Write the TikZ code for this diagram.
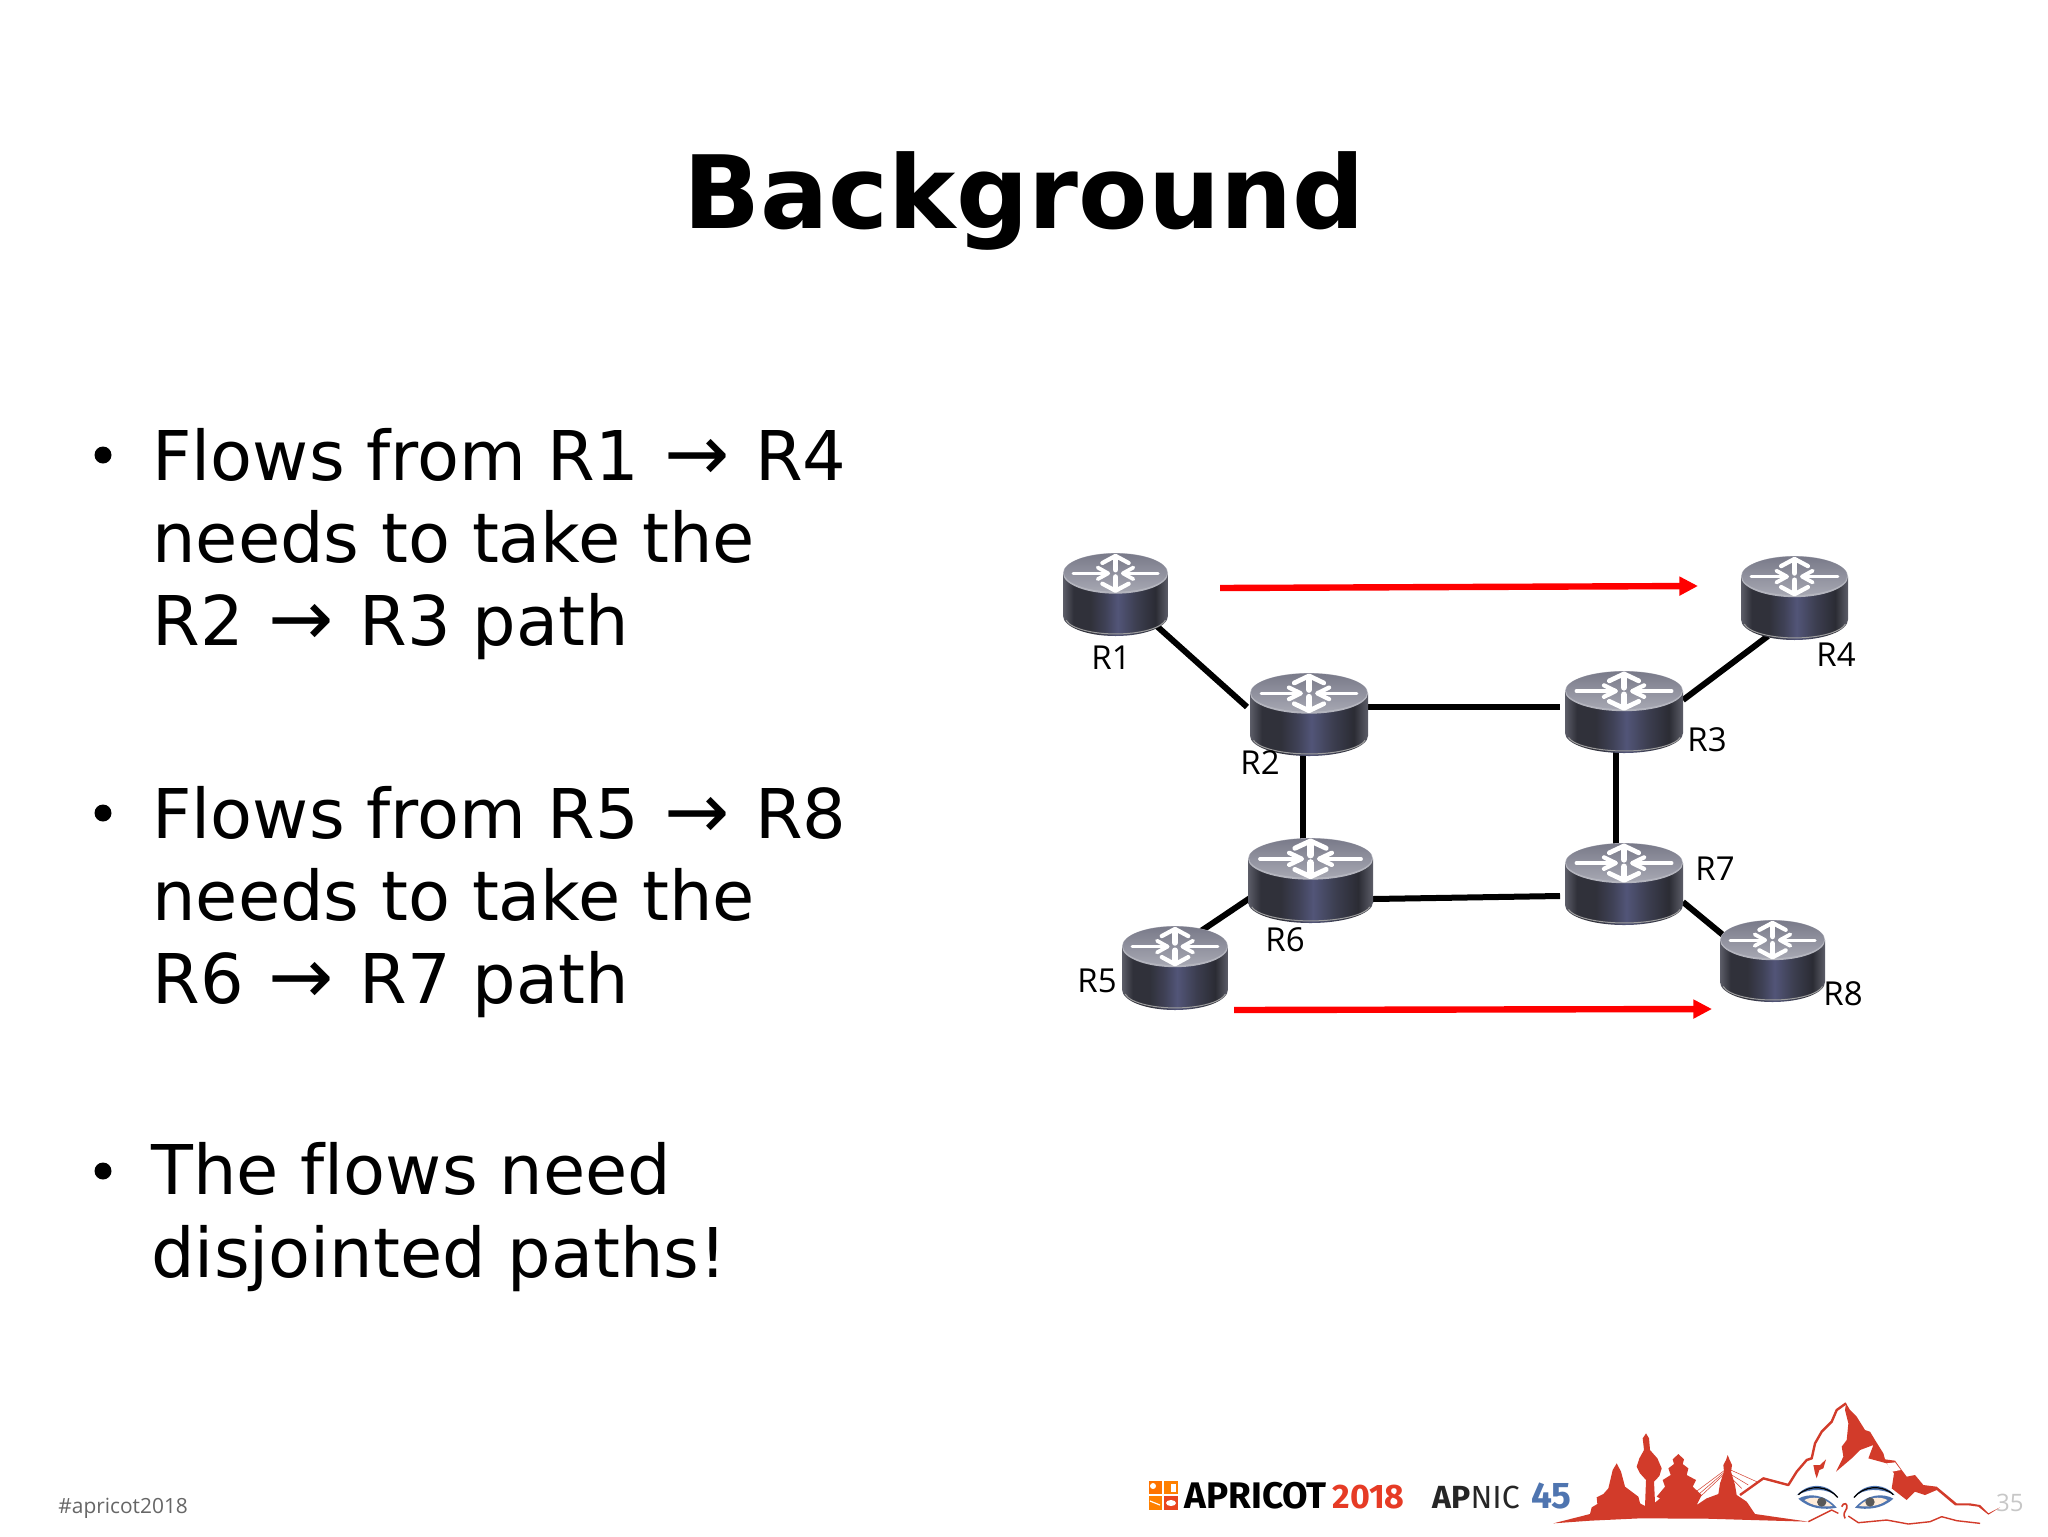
\documentclass[tikz,border=0pt]{standalone}
\usepackage{fontspec}
\setmainfont[Ligatures=NoCommon]{DejaVu Sans}
\newfontfamily\labelfont{Open Sans}
\newfontfamily\logofont{Fira Sans}
\usetikzlibrary{arrows.meta,calc}
\definecolor{redlogo}{HTML}{D23B2A}
\definecolor{redtxt}{HTML}{E63B25}
\definecolor{bluetxt}{HTML}{4F75B0}
\definecolor{rimtop}{HTML}{B4B5BE}
\definecolor{toplo}{HTML}{A6A7B2}
\definecolor{tophi}{HTML}{797A89}
\definecolor{bedge}{HTML}{5C5D68}
\definecolor{bdark}{HTML}{30313A}
\definecolor{bmid}{HTML}{3F4156}
\definecolor{bglow}{HTML}{525578}
\definecolor{bmid2}{HTML}{3C3E50}
\definecolor{bdark2}{HTML}{2B2C34}
\pgfdeclarehorizontalshading{routerbody}{100bp}{
 color(0bp)=(bedge);
 color(25bp)=(bedge);
 color(30bp)=(bdark);
 color(38bp)=(bdark);
 color(45bp)=(bmid);
 color(51bp)=(bglow);
 color(60bp)=(bmid2);
 color(69bp)=(bdark2);
 color(75bp)=(bedge);
 color(100bp)=(bedge)}
\tikzset{
 routerbox/.style={inner sep=0pt,outer sep=0pt},
 link/.style={black,line width=3pt},
 flow/.style={red,line width=3.2pt,-{Triangle[length=9.3pt,width=9pt]}},
 rlabel/.style={inner sep=0pt,font=\labelfont\fontsize{16.5}{18}\selectfont,text=black},
 bodytext/.style={inner sep=0pt,anchor=west,align=left,font=\fontsize{34.3}{41.2}\selectfont},
 bulletdot/.style={circle,fill=black,inner sep=0pt,minimum size=8.5pt},
 logothin/.style={draw=redlogo,line width=0.7pt,line join=round},
}
\newcommand{\bigarrow}{{\kern1.5pt\fontsize{39}{41.2}\selectfont →\kern2pt}}
\newcommand{\routerart}[3]{%
 \begin{scope}[shift={(#1.center)},x=#2*0.5pt,y=-#3*0.5pt]
  \shade[shading=routerbody] (-1,-.51) -- (-1,.51) arc[start angle=180,end angle=0,x radius=1,y radius=.49] -- (1,-.51) -- cycle;
  \draw[white!62!black,line width=0.5pt] (-.94,.62) arc[start angle=170,end angle=10,x radius=.96,y radius=.40];
  \fill[rimtop] (0,-.51) ellipse[x radius=1,y radius=.49];
  \shade[top color=tophi,bottom color=toplo] (0,-.53) ellipse[x radius=.985,y radius=.46];
  \begin{scope}[white,line width=#2*0.028pt,line cap=round,line join=round]
   \draw (-.81,-.51) -- (-.14,-.51);
   \draw[line width=#2*0.036pt] (-.34,-.65) -- (-.14,-.51) -- (-.34,-.37);
   \draw (.81,-.51) -- (.14,-.51);
   \draw[line width=#2*0.036pt] (.34,-.65) -- (.14,-.51) -- (.34,-.37);
   \draw[line width=#2*0.055pt] (0,-.6) -- (0,-.88);
   \draw[line width=#2*0.04pt] (-.25,-.76) -- (0,-.93) -- (.25,-.76);
   \draw[line width=#2*0.055pt] (0,-.42) -- (0,-.14);
   \draw[line width=#2*0.04pt] (-.25,-.26) -- (0,-.09) -- (.25,-.26);
  \end{scope}
 \end{scope}}
\begin{document}
\begin{tikzpicture}[x=0.5pt,y=-0.5pt]
\useasboundingbox (0,0) rectangle (2048,1536);
\fill[white] (0,0) rectangle (2048,1536);
% title
\node[inner sep=0pt,font=\bfseries\fontsize{50.6}{60}\selectfont] (title) at (1024,201) {Background};
% body
\node[bulletdot] (b1) at (103,455) {};
\node[bodytext] (t1) at (152,544) {Flows from R1 \bigarrow{} R4\\needs to take the\\R2 \bigarrow{} R3 path};
\node[bulletdot] (b2) at (103,813) {};
\node[bodytext] (t2) at (152,902) {Flows from R5 \bigarrow{} R8\\needs to take the\\R6 \bigarrow{} R7 path};
\node[bulletdot] (b3) at (103,1171) {};
\node[bodytext] (t3) at (151,1217) {The flows need\\disjointed paths!};
% router frames
\node[routerbox,minimum width=52.5pt,minimum height=41.5pt] (r1) at (1115.5,594.5) {};
\node[routerbox,minimum width=59pt,minimum height=41.5pt] (r2) at (1309,714.5) {};
\node[routerbox,minimum width=59pt,minimum height=41pt] (r3) at (1624,712) {};
\node[routerbox,minimum width=53.5pt,minimum height=42pt] (r4) at (1794.5,598) {};
\node[routerbox,minimum width=53pt,minimum height=42pt] (r5) at (1175,968) {};
\node[routerbox,minimum width=62.5pt,minimum height=42.5pt] (r6) at (1310.5,880.5) {};
\node[routerbox,minimum width=59pt,minimum height=41pt] (r7) at (1624,884) {};
\node[routerbox,minimum width=52.5pt,minimum height=41pt] (r8) at (1772.5,961) {};
% connector ends
\coordinate (c12a) at (1150,620);
\coordinate (c12) at (1247,707);
\coordinate (c23) at (1560,707);
\coordinate (c26) at (1303,800);
\coordinate (c37) at (1616,800);
\coordinate (c67) at (1560,896);
\coordinate (c61) at (1373,899);
\coordinate (c34a) at (1683,700);
\coordinate (c34b) at (1768,636);
\coordinate (c78a) at (1683,902);
\coordinate (c78b) at (1723,935);
\coordinate (c56a) at (1201,931);
\coordinate (c56b) at (1250,898);
\coordinate (f1a) at (1220,588);
\coordinate (f1b) at (1698,586);
\coordinate (f2a) at (1234,1010);
\coordinate (f2b) at (1712,1009);
% links
\draw[link] (c12a) -- (c12);
\draw[link] (c23 -| r2.center) -- (c23);
\draw[link] (c26 |- r2.center) -- (c26 |- r6.center);
\draw[link] (c37 |- r3.center) -- (c37 |- r7.center);
\draw[link] (c61) -- (c67);
\draw[link] (c34a) -- (c34b);
\draw[link] (c78a) -- (c78b);
\draw[link] (c56a) -- (c56b);
% routers
\routerart{r1}{52.5}{41.5}
\routerart{r2}{59}{41.5}
\routerart{r3}{59}{41}
\routerart{r4}{53.5}{42}
\routerart{r5}{53}{42}
\routerart{r6}{62.5}{42.5}
\routerart{r7}{59}{41}
\routerart{r8}{52.5}{41}
% flows
\draw[flow] (f1a) -- (f1b);
\draw[flow] (f2a) -- (f2b);
% labels
\node[rlabel] (l1) at (1111,658) {R1};
\node[rlabel] (l2) at (1260,763) {R2};
\node[rlabel] (l3) at (1707,740) {R3};
\node[rlabel] (l4) at (1836,655) {R4};
\node[rlabel] (l5) at (1097,981) {R5};
\node[rlabel] (l6) at (1285,940) {R6};
\node[rlabel] (l7) at (1715,869) {R7};
\node[rlabel] (l8) at (1843,994) {R8};
% footer
\node[inner sep=0pt,anchor=base west,text=black!60,font=\labelfont\fontsize{10.45}{13}\selectfont] (hash) at (58,1513) {\#apricot2018};
\node[inner sep=0pt,anchor=base east,text=black!22,font=\labelfont\fontsize{12}{13}\selectfont] (page) at (2024,1511) {35};
% APRICOT logo
\fill[orange!90!red] (1149,1481) rectangle (1162,1494);
\fill[orange] (1164,1481) rectangle (1178,1494);
\fill[orange] (1149,1496) rectangle (1162,1510);
\fill[redtxt!85!orange] (1164,1496) rectangle (1178,1510);
\fill[white] (1153,1486) circle[radius=3];
\fill[white] (1171,1484) rectangle (1176,1492);
\draw[white,line width=0.6pt] (1150,1501) -- (1160,1505);
\fill[white] (1171,1503) ellipse[x radius=5,y radius=3];
\node[inner sep=0pt,anchor=base west,font=\logofont\bfseries\fontsize{18.5}{19}\selectfont] (apricot) at (1184,1508) {APRICOT};
\node[inner sep=0pt,anchor=base west,text=redtxt,font=\logofont\bfseries\fontsize{17}{19}\selectfont] (yr) at (1332,1508) {2018};
\node[inner sep=0pt,anchor=base west,text=black!85,font=\logofont\fontsize{16}{19}\selectfont] (apnic) at (1432,1508) {\textbf{AP}NIC};
\node[inner sep=0pt,anchor=base west,text=bluetxt,font=\logofont\bfseries\fontsize{18.5}{19}\selectfont] (n45) at (1531,1508) {45};
% skyline and mountain, in the crop's own coordinates
\begin{scope}[shift={(1540,1390)},x=0.16667pt,y=-0.16667pt]
 \fill[redlogo] (40,400) -- (150,372) -- (155,352) -- (172,342) -- (170,322) -- (190,312) -- (205,295) -- (218,240) -- (230,220) -- (243,245) -- (255,290) -- (275,305) -- (295,320) -- (300,340) -- (315,348) -- (318,270) -- (300,250) -- (290,230) -- (298,205) -- (312,180) -- (308,145) -- (318,130) -- (327,145) -- (330,180) -- (352,205) -- (365,235) -- (358,258) -- (342,275) -- (345,338) -- (360,325) -- (350,320) -- (375,290) -- (368,270) -- (392,255) -- (385,235) -- (402,222) -- (398,208) -- (415,192) -- (432,208) -- (428,222) -- (445,235) -- (440,255) -- (468,270) -- (458,290) -- (485,315) -- (470,345) -- (500,325) -- (535,312) -- (540,280) -- (552,245) -- (550,225) -- (558,210) -- (563,195) -- (569,210) -- (576,225) -- (573,245) -- (585,285) -- (590,315) -- (620,335) -- (645,372) -- (805,395) -- (500,386) -- (300,385) -- (150,392) -- cycle;
 \draw[redlogo,line width=0.25pt] (555,240) -- (468,305) (555,245) -- (470,318) (555,250) -- (470,330) (572,240) -- (650,275) (575,255) -- (625,285) (580,270) -- (605,295);
 \draw[logothin,line width=1.2pt] (600,315) -- (670,265) -- (745,285) -- (770,245) -- (800,210) -- (815,205) -- (825,160) -- (845,125) -- (875,95) -- (890,60) -- (918,40);
 \fill[redlogo] (918,40) -- (930,60) -- (950,80) -- (975,120) -- (990,125) -- (1005,150) -- (1030,190) -- (1035,208) -- (1065,212) -- (1085,240) -- (1100,260) -- (1125,255) -- (1150,285) -- (1190,290) -- (1220,315) -- (1250,340) -- (1290,340) -- (1320,345) -- (1345,370) -- (1380,352) -- (1345,374) -- (1315,350) -- (1285,346) -- (1245,346) -- (1190,300) -- (1155,315) -- (1125,305) -- (1100,330) -- (1055,295) -- (1062,250) -- (1040,220) -- (985,205) -- (1000,165) -- (960,180) -- (935,205) -- (888,245) -- (910,200) -- (905,170) -- (920,150) -- (925,100) -- (915,60) -- cycle;
 \fill[white] (1040,220) -- (1065,217) -- (1082,240) -- (1056,245) -- cycle;
 \fill[redlogo] (858,208) -- (840,225) -- (820,225) -- (825,250) -- (830,265) -- (838,240) -- (850,235) -- cycle;
 % eyes
 \foreach \ex/\fl in {845/1,990/-1}{
  \begin{scope}[shift={(\ex,338)},xscale=\fl]
   \fill[bluetxt] (-75,-22) .. controls (-40,-62) and (20,-60) .. (50,-14) .. controls (20,-46) and (-35,-44) .. (-75,-22) -- cycle;
   \draw[black,line width=0.6pt] (-70,-24) .. controls (-35,-56) and (20,-50) .. (48,-16);
   \fill[bluetxt] (-70,-12) .. controls (-40,-30) and (10,-26) .. (45,15) .. controls (10,22) and (-35,20) .. (-70,-12) -- cycle;
   \fill[white!85!orange] (-52,-8) .. controls (-30,-20) and (5,-18) .. (33,10) .. controls (5,13) and (-25,12) .. (-52,-8) -- cycle;
   \fill[black!65] (0,-2) circle[radius=14];
  \end{scope}}
 \draw[redlogo,line width=0.8pt] (905,350) .. controls (910,335) and (925,340) .. (920,355) .. controls (915,365) and (908,370) .. (915,385);
 \draw[logothin] (805,395) -- (875,360) -- (895,370);
 \draw[logothin] (925,378) -- (955,398) -- (1040,390) -- (1105,402) -- (1170,395) -- (1205,380) -- (1250,392) -- (1320,400);
\end{scope}
\end{tikzpicture}
\end{document}
